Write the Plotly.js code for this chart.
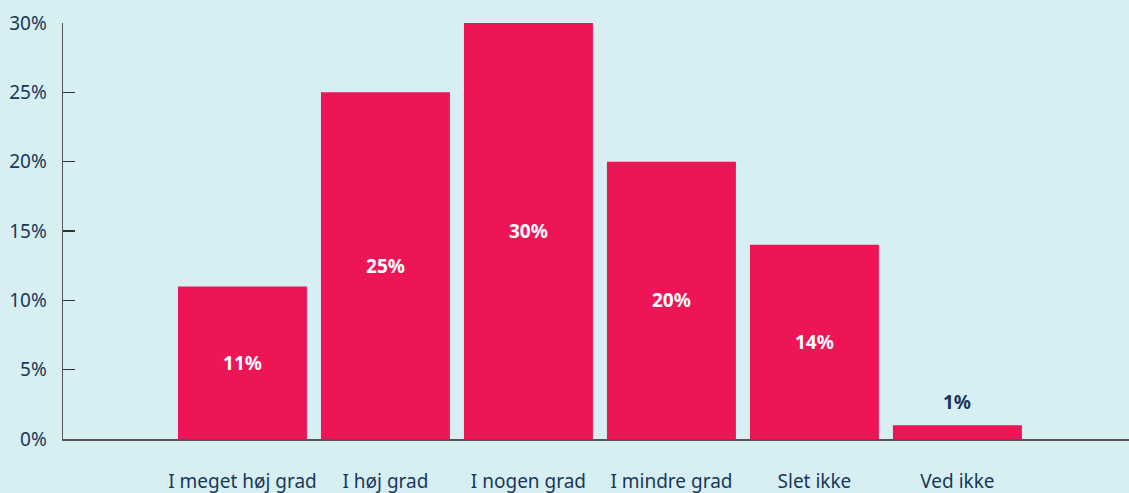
<!DOCTYPE html>
<html>
<head>
<meta charset="utf-8">
<script src="https://cdn.plot.ly/plotly-3.0.1.min.js"></script>
<style>html,body{margin:0;padding:0;background:#d7eff3;}#chart{width:1129px;height:493px;}</style>
</head>
<body>
<div id="chart"></div>
<script>
const categories = ["I meget høj grad", "I høj grad", "I nogen grad", "I mindre grad", "Slet ikke", "Ved ikke"];
const values = [11, 25, 30, 20, 14, 1];
const yTicks = [0, 5, 10, 15, 20, 25, 30];

const navy = "#17385a";
const insideMin = 5;
const labels = values.map(v => v + "%");

const trace = {
  type: "bar",
  x: categories,
  y: values,
  marker: {color: "#ee1556"},
  text: values.map((v, i) => v >= insideMin ? labels[i] : ""),
  textposition: "inside",
  insidetextanchor: "middle",
  textangle: 0,
  textfont: {family: "Noto Sans", size: 19, color: "#ffffff", weight: "bold"},
  hoverinfo: "none"
};

const annotations = values.map((v, i) => v < insideMin ? {
  x: categories[i], y: v, xref: "x", yref: "y",
  text: "<b>" + labels[i] + "</b>", showarrow: false,
  yanchor: "bottom", yshift: 8,
  font: {family: "Noto Sans", size: 19, color: navy}
} : null).filter(a => a);

const layout = {
  width: 1129, height: 493,
  margin: {l: 63, r: 0, t: 23, b: 54},
  paper_bgcolor: "#d7eff3",
  plot_bgcolor: "#d7eff3",
  bargap: 0.098,
  showlegend: false,
  font: {family: "Noto Sans", color: navy, size: 19},
  xaxis: {
    type: "category",
    range: [-1.255, 6.2],
    showline: true, linecolor: "#555555", linewidth: 1.5,
    ticks: "", showgrid: false, zeroline: false,
    ticklabelstandoff: 25,
    tickfont: {family: "Noto Sans", size: 19, color: navy},
    fixedrange: true
  },
  yaxis: {
    range: [0, 30],
    tickvals: yTicks,
    ticktext: yTicks.map(t => t + "%"),
    showline: true, linecolor: "#555555", linewidth: 1.5,
    ticks: "inside", ticklen: 12, tickcolor: "#333333", tickwidth: 1.5,
    showgrid: false, zeroline: false,
    ticklabelstandoff: 11,
    tickfont: {family: "Noto Sans", size: 19, color: navy},
    fixedrange: true
  },
  annotations: annotations
};

Plotly.newPlot("chart", [trace], layout, {displayModeBar: false, staticPlot: true});
</script>
</body>
</html>
